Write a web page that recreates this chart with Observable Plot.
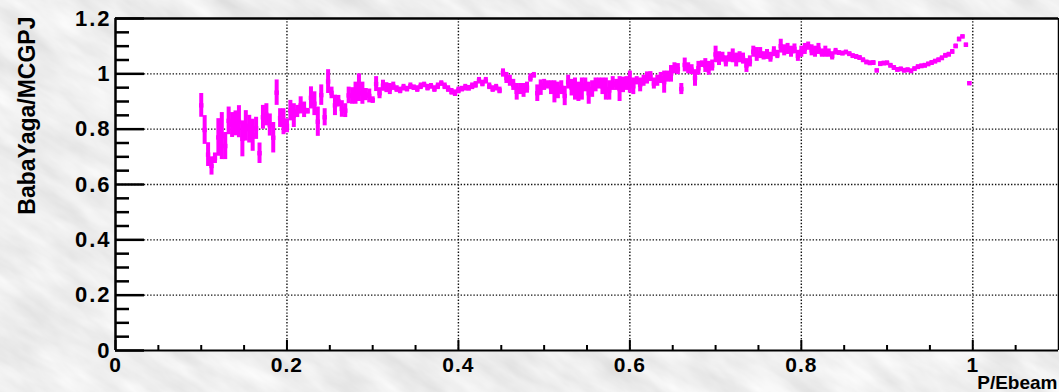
<!DOCTYPE html>
<html>
<head>
<meta charset="utf-8">
<script src="https://cdn.jsdelivr.net/npm/d3@7"></script>
<script src="https://cdn.jsdelivr.net/npm/@observablehq/plot@0.6"></script>
<style>
  html, body { margin: 0; padding: 0; width: 1059px; height: 392px; overflow: hidden; background-color: #d9d9d9; }
  g[aria-label="y-axis tick label"] text { letter-spacing: 2px; }
  g[aria-label="x-axis tick label"] text { letter-spacing: 1px; }
  g[aria-label="ytitle"] text { letter-spacing: 1.8px; }
</style>
</head>
<body>
<div id="chart"></div>
<script>
// Histogram bins of P/Ebeam: first bin centre and bin width
const binStart = 0.1;
const binWidth = 0.004;

// BabaYaga/MCGPJ ratio per bin
const ratio = [
  0.886, 0.797, 0.708, 0.667, 0.695, 0.770, 0.775, 0.739, 0.830, 0.815,
  0.821, 0.827, 0.765, 0.812, 0.800, 0.778, 0.803, 0.713, 0.843, 0.852,
  0.815, 0.769, 0.932, 0.840, 0.827, 0.812, 0.867, 0.849, 0.864, 0.886,
  0.870, 0.865, 0.913, 0.892, 0.827, 0.923, 0.843, 0.972, 0.931, 0.886,
  0.901, 0.873, 0.867, 0.922, 0.920, 0.930, 0.950,
  0.930, 0.925, 0.920, 0.905, 0.963, 0.930, 0.957, 0.950, 0.945, 0.955,
  0.945, 0.940, 0.950, 0.945, 0.955, 0.950, 0.945, 0.955, 0.960, 0.950,
  0.955, 0.945, 0.955, 0.965, 0.955, 0.945, 0.935, 0.930, 0.940, 0.945,
  0.950, 0.948, 0.955, 0.960, 0.975, 0.965, 0.975, 0.955, 0.945, 0.950,
  0.940,
  1.003,
  0.985, 0.975, 0.960, 0.935, 0.945, 0.940, 0.950, 0.985, 0.995, 0.930,
  0.950, 0.960, 0.960, 0.950, 0.935, 0.940, 0.950, 0.920, 0.970, 0.950,
  0.945, 0.935, 0.945, 0.960, 0.930, 0.945, 0.960, 0.965, 0.955, 0.945,
  0.940, 0.965, 0.960, 0.945, 0.960, 0.965, 0.970, 0.955, 0.975, 0.960,
  0.975, 0.985, 0.990, 0.965, 0.975, 0.985, 0.970, 0.990, 1.000, 1.020,
  1.017, 0.945, 1.032, 1.020, 1.015, 0.985, 1.020, 1.035, 1.030, 1.020,
  1.030, 1.070, 1.055, 1.060, 1.045, 1.060, 1.065, 1.050, 1.060, 1.055,
  1.030, 1.045, 1.080, 1.070, 1.075, 1.065, 1.070, 1.060, 1.080, 1.070,
  1.100, 1.085, 1.090, 1.080, 1.090, 1.065, 1.080, 1.090, 1.100, 1.085,
  1.080, 1.090, 1.075, 1.080, 1.075, 1.065, 1.080,
  1.076, 1.074, 1.078, 1.072, 1.065, 1.062, 1.058, 1.050, 1.042, 1.039,
  1.040, 1.012, 1.036, 1.038, 1.039, 1.030, 1.022, 1.015, 1.017, 1.012,
  1.014, 1.010, 1.018, 1.025, 1.028, 1.030, 1.035, 1.040, 1.045, 1.050,
  1.057, 1.066, 1.070, 1.080, 1.100, 1.125, 1.135, 1.105, 0.966
];

// Statistical error per bin
const err = [
  0.043, 0.052, 0.043, 0.033, 0.019, 0.068, 0.085, 0.049, 0.050, 0.045,
  0.045, 0.058, 0.065, 0.055, 0.050, 0.058, 0.040, 0.037, 0.043, 0.040,
  0.040, 0.055, 0.046, 0.034, 0.047, 0.025, 0.037, 0.043, 0.022, 0.031,
  0.028, 0.010, 0.040, 0.043, 0.053, 0.037, 0.031, 0.043, 0.021, 0.037,
  0.021, 0.030, 0.025, 0.030, 0.030, 0.040, 0.050,
  0.040, 0.022, 0.025, 0.012, 0.027, 0.020, 0.020, 0.018, 0.020, 0.015,
  0.012, 0.012, 0.012, 0.010, 0.012, 0.010, 0.012, 0.012, 0.010, 0.012,
  0.010, 0.012, 0.012, 0.010, 0.012, 0.012, 0.012, 0.012, 0.012, 0.010,
  0.012, 0.010, 0.012, 0.012, 0.012, 0.012, 0.012, 0.012, 0.012, 0.012,
  0.012,
  0.015,
  0.020, 0.020, 0.020, 0.030, 0.020, 0.025, 0.020, 0.015, 0.010, 0.030,
  0.028, 0.020, 0.015, 0.025, 0.040, 0.030, 0.025, 0.035, 0.025, 0.030,
  0.040, 0.035, 0.040, 0.025, 0.040, 0.030, 0.025, 0.020, 0.030, 0.040,
  0.035, 0.025, 0.020, 0.045, 0.028, 0.025, 0.040, 0.030, 0.015, 0.025,
  0.020, 0.022, 0.018, 0.020, 0.020, 0.020, 0.040, 0.020, 0.030, 0.020,
  0.020, 0.020, 0.025, 0.020, 0.018, 0.030, 0.025, 0.012, 0.025, 0.025,
  0.020, 0.030, 0.025, 0.018, 0.020, 0.018, 0.025, 0.025, 0.020, 0.020,
  0.025, 0.020, 0.020, 0.025, 0.020, 0.015, 0.018, 0.018, 0.018, 0.015,
  0.025, 0.020, 0.020, 0.020, 0.018, 0.020, 0.020, 0.020, 0.015, 0.020,
  0.020, 0.020, 0.015, 0.020, 0.015, 0.015, 0.012,
  0.008, 0.008, 0.008, 0.008, 0.008, 0.008, 0.008, 0.008, 0.008, 0.008,
  0.008, 0.006, 0.008, 0.008, 0.008, 0.008, 0.008, 0.008, 0.008, 0.008,
  0.008, 0.008, 0.008, 0.008, 0.008, 0.008, 0.008, 0.008, 0.008, 0.008,
  0.008, 0.008, 0.008, 0.008, 0.008, 0.008, 0.006, 0.006, 0.006
];

// Axis ticks and labels
const xMajor = [0, 0.2, 0.4, 0.6, 0.8, 1];
const xMinor = [0.05, 0.1, 0.15, 0.25, 0.3, 0.35, 0.45, 0.5, 0.55, 0.65, 0.7, 0.75, 0.85, 0.9, 0.95, 1.05];
const yMajor = [0, 0.2, 0.4, 0.6, 0.8, 1, 1.2];
const yMinor = [0.05, 0.1, 0.15, 0.25, 0.3, 0.35, 0.45, 0.5, 0.55, 0.65, 0.7, 0.75, 0.85, 0.9, 0.95, 1.05, 1.1, 1.15];
const xGrid = [0.2, 0.4, 0.6, 0.8, 1];
const yGrid = [0.2, 0.4, 0.6, 0.8, 1];
const xTitle = "P/Ebeam";
const yTitle = "BabaYaga/MCGPJ";

const data = ratio.map((r, i) => ({p: binStart + i * binWidth, r, e: err[i]}));

// marbled grey background texture
const bg = `<svg xmlns='http://www.w3.org/2000/svg' width='1059' height='392'>
<filter id='f' x='0' y='0' width='100%' height='100%'>
<feTurbulence type='fractalNoise' baseFrequency='0.014 0.045' numOctaves='4' seed='3'/>
<feColorMatrix type='matrix' values='0.30 0 0 0 0.71  0.30 0 0 0 0.71  0.30 0 0 0 0.71  0 0 0 0 1'/>
</filter>
<g transform='rotate(32 530 196)'><rect x='-500' y='-600' width='2100' height='1600' filter='url(#f)'/></g>
</svg>`;
document.body.style.backgroundImage = `url("data:image/svg+xml,${encodeURIComponent(bg)}")`;

const W = 1059, H = 392, mL = 115, mR = 1, mT = 18, mB = 42;
const plotW = W - mL - mR, plotH = H - mT - mB;
const magenta = "#ff00ff";
const fmt = d => String(d);

const chart = Plot.plot({
  width: W,
  height: H,
  marginLeft: mL,
  marginRight: mR,
  marginTop: mT,
  marginBottom: mB,
  style: {background: "transparent", fontFamily: "'Liberation Sans', Arial, Helvetica, sans-serif", color: "black", overflow: "visible"},
  x: {domain: [0, 1.1]},
  y: {domain: [0, 1.2]},
  marks: [
    Plot.frame({fill: "white", stroke: null}),
    Plot.gridX(xGrid, {stroke: "#111", strokeOpacity: 1, strokeWidth: 1.4, strokeDasharray: "1.4,1.8"}),
    Plot.gridY(yGrid, {stroke: "#111", strokeOpacity: 1, strokeWidth: 1.4, strokeDasharray: "1.4,1.8"}),
    Plot.ruleX(data, {x: "p", y1: d => d.r - d.e, y2: d => d.r + d.e, stroke: magenta, strokeWidth: 4}),
    Plot.dot(data, {x: "p", y: "r", symbol: "square", r: 2.5, fill: magenta, stroke: null}),
    // frame lines
    Plot.ruleY([0], {stroke: "black", strokeWidth: 2.2}),
    Plot.ruleX([0], {stroke: "black", strokeWidth: 2.5}),
    Plot.ruleY([1.2], {stroke: "black", strokeWidth: 2.5}),
    Plot.ruleX([1.1], {stroke: "black", strokeWidth: 1.5}),
    // inward ticks
    Plot.tickY(yMajor, {y: d => d, stroke: "black", strokeWidth: 2.5, insetRight: plotW - 29}),
    Plot.tickY(yMinor, {y: d => d, stroke: "black", strokeWidth: 2.5, insetRight: plotW - 14}),
    Plot.tickX(xMajor, {x: d => d, stroke: "black", strokeWidth: 2, insetTop: plotH - 10}),
    Plot.tickX(xMinor, {x: d => d, stroke: "black", strokeWidth: 2, insetTop: plotH - 5}),
    // tick labels
    Plot.axisY(yMajor, {anchor: "left", tickSize: 0, tickPadding: 4, tickFormat: fmt, fontSize: 22, fontWeight: "bold", label: null}),
    Plot.axisX(xMajor, {anchor: "bottom", tickSize: 0, tickPadding: 7, tickFormat: fmt, fontSize: 21, fontWeight: "bold", label: null}),
    // axis titles
    Plot.text([xTitle], {frameAnchor: "bottom-right", text: d => d, textAnchor: "end", lineAnchor: "bottom", dy: 38, dx: -1, fontSize: 19, fontWeight: "bold", fill: "black"}),
    Plot.text([yTitle], {frameAnchor: "top-left", text: d => d, rotate: -90, textAnchor: "end", lineAnchor: "middle", dx: -88, dy: -2, fontSize: 23, fontWeight: "bold", fill: "black", ariaLabel: "ytitle"})
  ]
});
document.getElementById("chart").appendChild(chart);
</script>
</body>
</html>
